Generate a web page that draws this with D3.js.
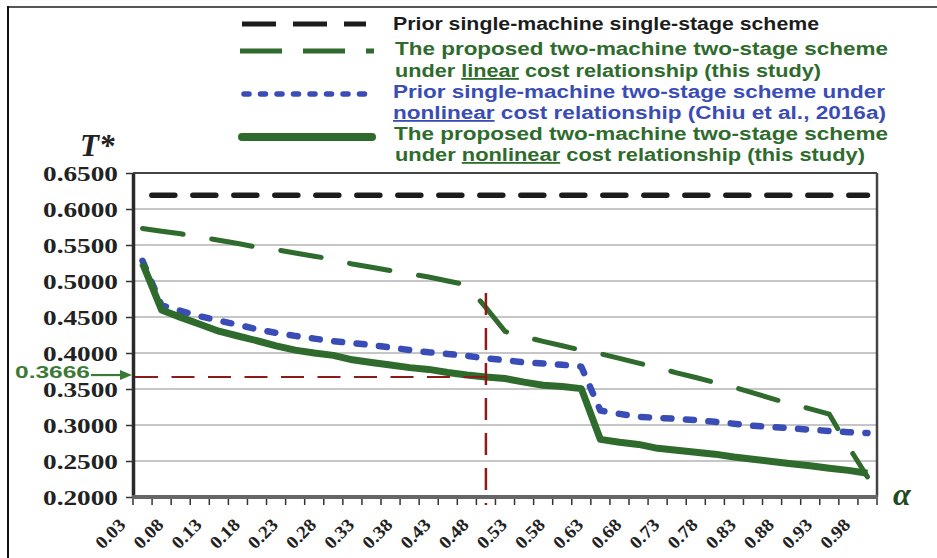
<!DOCTYPE html>
<html>
<head>
<meta charset="utf-8">
<script src="https://cdn.jsdelivr.net/npm/d3@7"></script>
<style>
  html, body { margin: 0; padding: 0; background: #fff; }
  svg { display: block; }
</style>
</head>
<body>
<svg id="chart" width="937" height="558"></svg>
<script>
// ---- data -------------------------------------------------------------
const alpha = [0.025, 0.05, 0.075, 0.10, 0.125, 0.15, 0.175, 0.20, 0.225, 0.25,
               0.275, 0.30, 0.325, 0.35, 0.375, 0.40, 0.425, 0.45, 0.475, 0.50,
               0.525, 0.55, 0.575, 0.60, 0.625, 0.65, 0.675, 0.70, 0.725, 0.75,
               0.775, 0.80, 0.825, 0.85, 0.875, 0.90, 0.925, 0.95, 0.975];

const xTickLabels = ["0.03", "0.08", "0.13", "0.18", "0.23", "0.28", "0.33", "0.38", "0.43", "0.48",
                     "0.53", "0.58", "0.63", "0.68", "0.73", "0.78", "0.83", "0.88", "0.93", "0.98"];

const yTicks = [0.20, 0.25, 0.30, 0.35, 0.40, 0.45, 0.50, 0.55, 0.60, 0.65];

// Prior single-machine single-stage scheme
const singleStage = [0.619, 0.619, 0.619, 0.619, 0.619, 0.619, 0.619, 0.619, 0.619, 0.619,
                     0.619, 0.619, 0.619, 0.619, 0.619, 0.619, 0.619, 0.619, 0.619, 0.619,
                     0.619, 0.619, 0.619, 0.619, 0.619, 0.619, 0.619, 0.619, 0.619, 0.619,
                     0.619, 0.619, 0.619, 0.619, 0.619, 0.619, 0.619, 0.619, 0.619];

// Proposed two-machine two-stage scheme, linear cost relationship
const twoMachineLinear = [0.573, 0.569, 0.5655, 0.561, 0.5567, 0.552, 0.547, 0.5435, 0.539, 0.5344,
                          0.530, 0.5235, 0.519, 0.5145, 0.510, 0.5055, 0.500, 0.4945, 0.463, 0.430,
                          0.4225, 0.4162, 0.410, 0.404, 0.399, 0.3925, 0.386, 0.3795, 0.3725, 0.366,
                          0.359, 0.3525, 0.3447, 0.3367, 0.329, 0.3225, 0.315, 0.270, 0.228];

// Prior single-machine two-stage scheme, nonlinear cost relationship
const singleMachineNonlinear = [0.528, 0.466, 0.4585, 0.451, 0.445, 0.4392, 0.433, 0.428, 0.4238, 0.420,
                                0.4164, 0.4138, 0.411, 0.4077, 0.4042, 0.401, 0.3987, 0.396, 0.3925, 0.390,
                                0.387, 0.3853, 0.3837, 0.381, 0.320, 0.3155, 0.3113, 0.310, 0.3085, 0.3068,
                                0.3045, 0.3018, 0.299, 0.2973, 0.2953, 0.2935, 0.2917, 0.290, 0.2889];

// Proposed two-machine two-stage scheme, nonlinear cost relationship
const twoMachineNonlinear = [0.5245, 0.4597, 0.4495, 0.440, 0.4303, 0.4236, 0.417, 0.410, 0.404, 0.400,
                             0.3967, 0.3905, 0.3868, 0.3833, 0.3797, 0.3772, 0.373, 0.3695, 0.3666, 0.3645,
                             0.3595, 0.3553, 0.3535, 0.3505, 0.280, 0.276, 0.273, 0.2676, 0.265, 0.2622,
                             0.2595, 0.2555, 0.2525, 0.2492, 0.2462, 0.2433, 0.240, 0.237, 0.2329];

// marked optimum on the proposed nonlinear curve
const markedAlpha = 0.475;
const markedValue = 0.3666;
const markedLabel = "0.3666";

const legendText = [
  ["Prior single-machine single-stage scheme"],
  ["The proposed two-machine two-stage scheme"],
  ["under ", "linear", " cost relationship (this study)"],
  ["Prior single-machine two-stage scheme under"],
  ["nonlinear", " cost relationship (Chiu et al., 2016a)"],
  ["The proposed two-machine two-stage scheme"],
  ["under ", "nonlinear", " cost relationship (this study)"]
];
const underlinedWords = ["linear", "nonlinear"];

// ---- layout -----------------------------------------------------------
const svg = d3.select("#chart");
const plotL = 133, plotR = 877, plotT = 173, plotB = 497;

const x = d3.scaleBand().domain(alpha).range([plotL, plotR]).padding(0);
const bw = x.bandwidth();
const cx = a => x(a) + bw / 2;
const y = d3.scaleLinear().domain([0.20, 0.65]).range([plotB, plotT]);

const GREEN = "#2f6b2d", BLUE = "#3a4cb6", BLACK = "#1c1c1c", RED = "#8e1b1b";
const SERIF = "'Liberation Serif', 'Times New Roman', serif";

// outer frame
svg.append("line").attr("x1", 8).attr("x2", 937).attr("y1", 7).attr("y2", 7)
  .attr("stroke", "#555").attr("stroke-width", 2);
svg.append("line").attr("x1", 8).attr("x2", 8).attr("y1", 6).attr("y2", 558)
  .attr("stroke", "#111").attr("stroke-width", 2);

// horizontal gridlines
svg.append("g").selectAll("line")
  .data(yTicks.filter(v => v > 0.2 && v < 0.65))
  .join("line")
  .attr("x1", plotL).attr("x2", plotR)
  .attr("y1", d => y(d)).attr("y2", d => y(d))
  .attr("stroke", "#b3b3b3").attr("stroke-width", 1.3);

// plot border (top, right)
svg.append("line").attr("x1", plotL).attr("x2", plotR).attr("y1", plotT).attr("y2", plotT)
  .attr("stroke", "#444").attr("stroke-width", 2);
svg.append("line").attr("x1", plotR).attr("x2", plotR).attr("y1", plotT).attr("y2", plotB)
  .attr("stroke", "#444").attr("stroke-width", 2.5);

// y axis
const yAxis = svg.append("g")
  .attr("transform", `translate(${plotL},0)`)
  .call(d3.axisLeft(y).tickValues(yTicks).tickFormat(d3.format(".4f"))
        .tickSize(7).tickSizeOuter(0).tickPadding(8));
yAxis.select(".domain").attr("stroke", "#2a2a2a").attr("stroke-width", 3.5);
yAxis.selectAll(".tick line").attr("stroke", "#333").attr("stroke-width", 1.5);
yAxis.selectAll(".tick text")
  .attr("font-family", SERIF)
  .attr("font-weight", "bold").attr("font-size", 22).attr("fill", "#222")
  .attr("textLength", 75).attr("lengthAdjust", "spacingAndGlyphs")
  .attr("dy", "0.35em");

// x axis: baseline, boundary ticks, rotated labels
const boundaries = alpha.map(a => x(a)).concat([x.range()[1]]);
svg.append("g").selectAll("line").data(boundaries).join("line")
  .attr("x1", d => d).attr("x2", d => d).attr("y1", plotB).attr("y2", plotB + 8)
  .attr("stroke", "#333").attr("stroke-width", 1.5);
svg.append("line").attr("x1", plotL - 1).attr("x2", plotR + 1).attr("y1", plotB).attr("y2", plotB)
  .attr("stroke", "#666").attr("stroke-width", 4);

svg.append("g").selectAll("text").data(xTickLabels).join("text")
  .attr("transform", (d, k) => `translate(${cx(alpha[2 * k]) - 16},${plotB + 29}) rotate(-45)`)
  .attr("text-anchor", "end")
  .attr("font-family", SERIF)
  .attr("font-weight", "bold").attr("font-size", 18).attr("fill", "#222")
  .attr("textLength", 34).attr("lengthAdjust", "spacingAndGlyphs")
  .text(d => d);

// axis titles
svg.append("text").attr("x", 80).attr("y", 156)
  .attr("font-family", SERIF)
  .attr("font-weight", "bold").attr("font-style", "italic").attr("font-size", 31)
  .attr("fill", "#222").text("T*");
svg.append("text").attr("x", 893).attr("y", 505)
  .attr("font-family", SERIF)
  .attr("font-weight", "bold").attr("font-style", "italic").attr("font-size", 32)
  .attr("fill", "#1f4a1f").text("α");

// ---- series -----------------------------------------------------------
const line = d3.line().x((d, i) => cx(alpha[i])).y(d => y(d));

svg.append("path").datum(singleStage).attr("d", line)
  .attr("fill", "none").attr("stroke", BLACK).attr("stroke-width", 5.5)
  .attr("stroke-linecap", "round").attr("stroke-dasharray", "23 18").attr("stroke-dashoffset", 31.7);

svg.append("path").datum(twoMachineLinear).attr("d", line)
  .attr("fill", "none").attr("stroke", GREEN).attr("stroke-width", 5)
  .attr("stroke-linecap", "round").attr("stroke-dasharray", "41 29");

svg.append("path").datum(singleMachineNonlinear).attr("d", line)
  .attr("fill", "none").attr("stroke", BLUE).attr("stroke-width", 6.5)
  .attr("stroke-linecap", "round").attr("stroke-linejoin", "round")
  .attr("stroke-dasharray", "8 14.5");

svg.append("path").datum(twoMachineNonlinear).attr("d", line)
  .attr("fill", "none").attr("stroke", GREEN).attr("stroke-width", 7)
  .attr("stroke-linejoin", "round");

// ---- marked optimum ---------------------------------------------------
const mx = cx(markedAlpha), my = y(markedValue);
svg.append("line").attr("x1", plotL + 2).attr("x2", mx).attr("y1", my).attr("y2", my)
  .attr("stroke", RED).attr("stroke-width", 2).attr("stroke-dasharray", "23 13.5");
svg.append("line").attr("x1", mx).attr("x2", mx).attr("y1", y(0.4833)).attr("y2", plotB + 8)
  .attr("stroke", RED).attr("stroke-width", 2.5).attr("stroke-dasharray", "22 13");

svg.append("text").attr("x", 15).attr("y", my + 1)
  .attr("font-family", "'Liberation Sans', Arial, sans-serif")
  .attr("font-weight", "bold").attr("font-size", 16).attr("fill", "#3b7a35")
  .attr("textLength", 75).attr("lengthAdjust", "spacingAndGlyphs")
  .text(markedLabel);
svg.append("line").attr("x1", 91).attr("x2", 122).attr("y1", my - 2).attr("y2", my - 2)
  .attr("stroke", "#3b7a35").attr("stroke-width", 2.2);
svg.append("path")
  .attr("d", `M120,${my - 7} L132,${my - 2} L120,${my + 3} Z`)
  .attr("fill", "#3b7a35");

// ---- legend -----------------------------------------------------------
const legendFont = "'Liberation Sans', Arial, Helvetica, sans-serif";
const rowBase = [30, 55, 77, 98, 119, 140, 161];
const rowLeft = [393, 395, 395, 393, 393, 394, 395];
const rowWidth = [426, 493, 426, 492, 493, 494, 470];
const rowColor = [BLACK, GREEN, GREEN, BLUE, BLUE, GREEN, GREEN];

legendText.forEach((parts, r) => {
  const t = svg.append("text")
    .attr("x", rowLeft[r]).attr("y", rowBase[r])
    .attr("font-family", legendFont).attr("font-weight", "bold").attr("font-size", 18)
    .attr("fill", rowColor[r])
    .attr("textLength", rowWidth[r]).attr("lengthAdjust", "spacingAndGlyphs")
    .style("white-space", "pre");
  parts.forEach(p => {
    const ts = t.append("tspan").text(p);
    if (underlinedWords.includes(p)) ts.attr("text-decoration", "underline");
  });
});

const sw = svg.append("g");
sw.append("line").attr("x1", 242).attr("x2", 366).attr("y1", 24).attr("y2", 24)
  .attr("stroke", BLACK).attr("stroke-width", 5).attr("stroke-dasharray", "34 17");
sw.append("line").attr("x1", 240).attr("x2", 374).attr("y1", 51).attr("y2", 51)
  .attr("stroke", GREEN).attr("stroke-width", 5).attr("stroke-dasharray", "42 21");
sw.append("line").attr("x1", 244).attr("x2", 366).attr("y1", 94).attr("y2", 94)
  .attr("stroke", BLUE).attr("stroke-width", 5.5).attr("stroke-linecap", "round")
  .attr("stroke-dasharray", "5 11.5");
sw.append("line").attr("x1", 242).attr("x2", 372).attr("y1", 137).attr("y2", 137)
  .attr("stroke", GREEN).attr("stroke-width", 8).attr("stroke-linecap", "round");
</script>
</body>
</html>
